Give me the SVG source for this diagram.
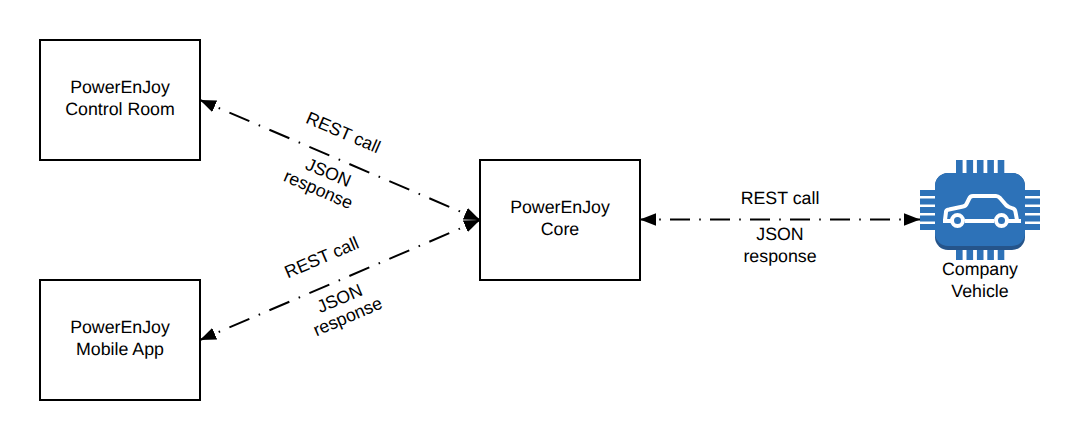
<svg xmlns="http://www.w3.org/2000/svg" width="1080" height="440" viewBox="0 0 1080 440">
<style>
text{font-family:"Liberation Sans",Arial,sans-serif;font-size:17.78px;fill:#000;text-anchor:middle;text-rendering:geometricPrecision}
.box{fill:#fff;stroke:#000;stroke-width:2}
.conn{fill:none;stroke:#000;stroke-width:2}
.diag{stroke-dasharray:21.7 10.1 1.6 10.1;stroke-dashoffset:-32}
.horiz{stroke-dasharray:20 9.2 1.6 9.2;stroke-dashoffset:-30}
.pin{fill:#2d72b8}
.car{fill:none;stroke:#fff;stroke-width:4;stroke-linejoin:round}
.wheel{fill:#2d72b8;stroke:#fff;stroke-width:4}
</style>
<defs>
<marker id="ah" markerUnits="userSpaceOnUse" viewBox="0 0 16 12.6" refX="16" refY="6.3" markerWidth="16" markerHeight="12.6" orient="auto-start-reverse"><path d="M0 0L16 6.3L0 12.6Z" fill="#000"/></marker>
</defs>
<rect width="1080" height="440" fill="#fff"/>
<g id="connectors">
<path class="conn diag" d="M200 100L480 220" marker-start="url(#ah)" marker-end="url(#ah)"/>
<path class="conn diag" d="M200 340L480 220" marker-start="url(#ah)" marker-end="url(#ah)"/>
<path class="conn horiz" d="M640 219.5L920 219.5" marker-start="url(#ah)" marker-end="url(#ah)"/>
</g>
<g id="control-room"><rect class="box" x="40" y="40" width="160" height="120"/><text x="120" y="93">PowerEnJoy</text><text x="120" y="115">Control Room</text></g>
<g id="mobile-app"><rect class="box" x="40" y="280" width="160" height="120"/><text x="120" y="333">PowerEnJoy</text><text x="120" y="355">Mobile App</text></g>
<g id="core"><rect class="box" x="480" y="160" width="160" height="120"/><text x="560" y="213">PowerEnJoy</text><text x="560" y="235">Core</text></g>
<g id="vehicle">
<g class="pin">
<rect x="956" y="160" width="6.6" height="100"/><rect x="966.5" y="160" width="6.6" height="100"/><rect x="976.9" y="160" width="6.6" height="100"/><rect x="987.3" y="160" width="6.6" height="100"/><rect x="997.7" y="160" width="6.6" height="100"/>
<rect x="920" y="190" width="120" height="6"/><rect x="920" y="198.5" width="120" height="6"/><rect x="920" y="207" width="120" height="6"/><rect x="920" y="215.5" width="120" height="6"/><rect x="920" y="224" width="120" height="6"/>
</g>
<rect x="935" y="173" width="90" height="77" rx="13" fill="#25548a"/>
<rect x="935" y="173" width="90" height="73" rx="13" fill="#2d72b8"/>
<path class="car" d="M945 220L946 212Q946 210 949 209.5L963 206.5Q966 206 967 203L969 199Q970 196 973 196H996Q998 196 1000 198L1006 205Q1007 206 1009 207L1013 208.5Q1015 209 1015.5 212L1017 220"/>
<path class="car" d="M943 221H951M965 221H994M1008 221H1021"/>
<circle class="wheel" cx="957.5" cy="220.5" r="5.5"/>
<circle class="wheel" cx="1001.5" cy="220.5" r="5.5"/>
<text x="980" y="275">Company</text><text x="980" y="296.500">Vehicle</text>
</g>
<g id="labels">
<text transform="translate(341 138) rotate(23.2)">REST call</text>
<text transform="translate(326 178) rotate(23.2)">JSON</text>
<text transform="translate(316 195) rotate(23.2)">response</text>
<text transform="translate(324 263) rotate(-23.2)">REST call</text>
<text transform="translate(342 304) rotate(-23.2)">JSON</text>
<text transform="translate(350 322) rotate(-23.2)">response</text>
<text x="780" y="204">REST call</text>
<text x="780" y="240">JSON</text>
<text x="780" y="262">response</text>
</g>
</svg>
